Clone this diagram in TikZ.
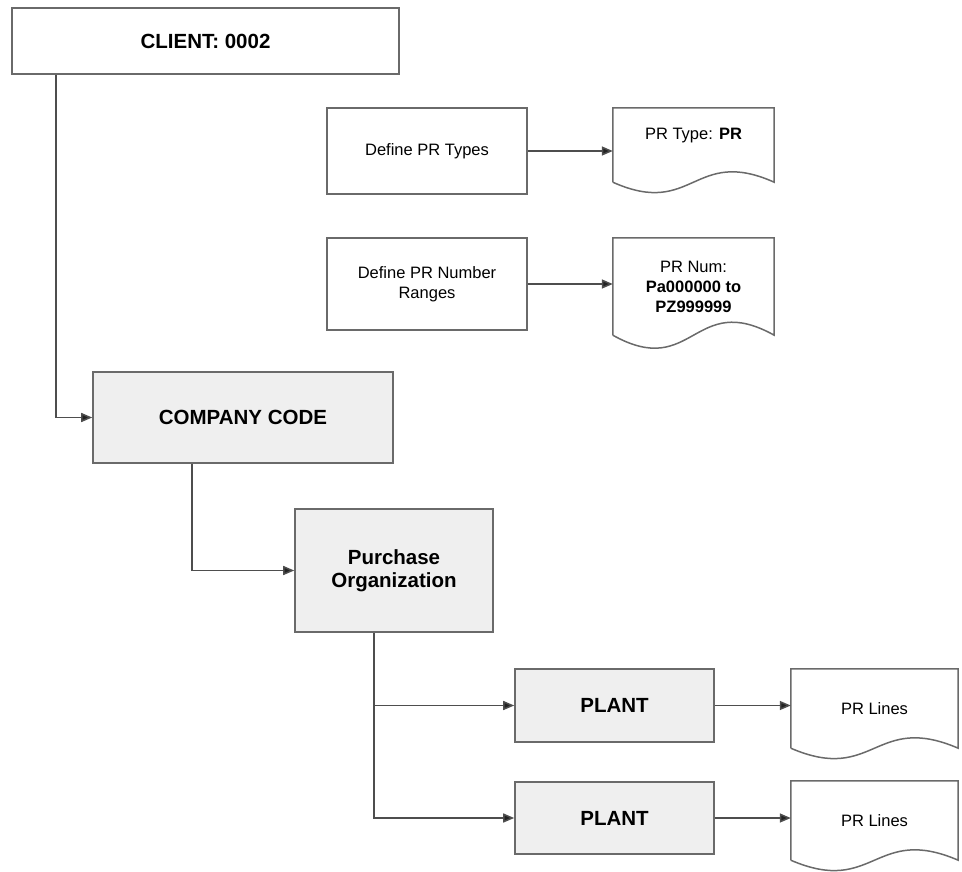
\documentclass[tikz,border=0pt]{standalone}
\usepackage{fontspec}
\setmainfont{Liberation Sans}
\usetikzlibrary{arrows.meta,calc}
\definecolor{boxline}{HTML}{6A6A6A}
\definecolor{wire}{HTML}{4E4E4E}
\definecolor{shade}{HTML}{EFEFEF}
\definecolor{tip}{HTML}{222222}
% outline of a document symbol: flat top, wavy bottom edge
\newcommand\docoutline[2]{%
  \draw[docline] (#1.south west) -- (#1.north west) -- (#1.north east) -- (#1.south east)
    .. controls ($(#1.south)+(0,-#2)$) and ($(#1.south)+(0,#2)$) .. (#1.south west);}
\begin{document}
\begin{tikzpicture}[x=1pt,y=-1pt,
  box/.style={draw=boxline, line width=1.6pt, fill=white, inner sep=0pt, align=center,
    font=\fontsize{16.5}{20}\selectfont},
  keybox/.style={box, fill=shade, font=\fontsize{20.5}{23.5}\selectfont\bfseries},
  docnode/.style={inner sep=0pt, align=center, font=\fontsize{16.5}{20}\selectfont},
  docline/.style={draw=boxline, line width=1.5pt},
  link/.style={draw=wire, line width=1.5pt, -{Triangle[length=11pt,width=9pt,fill=tip]}}]
\useasboundingbox (0,0) rectangle (962,871);

% organisational units
\node[box, font=\fontsize{20.5}{23.5}\selectfont\bfseries, minimum width=387, minimum height=66]
  (client) at (205.5,41) {CLIENT: 0002};
\node[keybox, minimum width=300, minimum height=91] (cc) at (243,417.5) {COMPANY CODE};
\node[keybox, minimum width=198, minimum height=123] (po) at (394,570.5) {Purchase\\Organization};
\node[keybox, minimum width=199, minimum height=73] (p1) at (614.5,705.5) {PLANT};
\node[keybox, minimum width=199, minimum height=72] (p2) at (614.5,818) {PLANT};

% configuration steps
\node[box, minimum width=200, minimum height=86] (deftype) at (427,151) {Define PR Types};
\node[box, minimum width=200, minimum height=92] (defnum) at (427,284) {Define PR Number\\Ranges};

% documents
\node[docnode, minimum width=161, minimum height=74,
  label={[docnode, yshift=9pt]center:{PR Type: \textbf{PR}}}] (d1) at (693.5,145) {};
\node[docnode, minimum width=161, minimum height=97] (d2) at (693.5,286.5)
  {PR Num:\\\textbf{Pa000000 to}\\\textbf{PZ999999}};
\node[docnode, minimum width=167, minimum height=79] (l1) at (874.5,708.5) {PR Lines};
\node[docnode, minimum width=167, minimum height=79] (l2) at (874.5,820.5) {PR Lines};
\docoutline{d1}{36}
\docoutline{d2}{45}
\docoutline{l1}{36}
\docoutline{l2}{36}

% connectors
\draw[link] ($(client.south west)+(45,0)$) |- (cc.west);
\draw[link] ($(cc.south west)+(100,0)$) |- (po.west);
\coordinate (pofoot) at ($(po.south west)+(80,0)$);
\draw[link] (pofoot) |- (p2.west);
\draw[link] (pofoot |- p1.west) -- (p1.west);
\draw[link] (deftype.east) -- (deftype.east -| d1.west);
\draw[link] (defnum.east) -- (defnum.east -| d2.west);
\draw[link] (p1.east) -- (p1.east -| l1.west);
\draw[link] (p2.east) -- (p2.east -| l2.west);
\end{tikzpicture}
\end{document}
